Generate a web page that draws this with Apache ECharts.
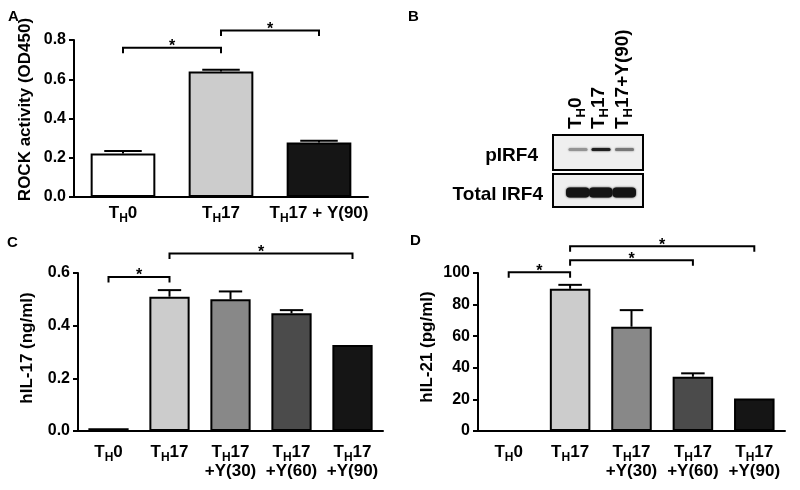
<!DOCTYPE html>
<html><head><meta charset="utf-8">
<script src="https://cdn.jsdelivr.net/npm/echarts@6/dist/echarts.min.js"></script>
<style>html,body{margin:0;padding:0;background:#fff}#c{width:800px;height:490px}</style>
</head><body><div id="c"></div>
<script>
// ---------- data ----------
const catsA = ['TH0', 'TH17', 'TH17 + Y(90)'];
const rockMean = [0.222, 0.640, 0.278];
const rockErr = [0.013, 0.009, 0.009];
const yTicksA = [0, 0.2, 0.4, 0.6, 0.8];

const catsCD = ['TH0', 'TH17', 'TH17\n+Y(30)', 'TH17\n+Y(60)', 'TH17\n+Y(90)'];
const il17Mean = [0.010, 0.510, 0.500, 0.447, 0.327];
const il17Err = [0, 0.025, 0.030, 0.012, 0];
const yTicksC = [0, 0.2, 0.4, 0.6];
const il21Mean = [0, 90.0, 66.0, 34.3, 20.5];
const il21Err = [0, 2.5, 10.5, 2.2, 0];
const yTicksD = [0, 20, 40, 60, 80, 100];

// significance brackets: [from category, to category, height in axis units]
const sigA = [[0, 1, 0.761], [1, 2, 0.849]];
const sigC = [[0, 1, 0.585], [1, 4, 0.674]];
const sigD = [[0, 1, 100.4], [1, 3, 108.0], [1, 4, 116.9]];

// western blot (panel B)
const blotLanes = ['TH0', 'TH17', 'TH17+Y(90)'];
const blotRows = ['pIRF4', 'Total IRF4'];
const pIRF4Band = [0.42, 0.95, 0.55];
const totalIRF4Band = [1.0, 1.0, 1.0];

// ---------- rendering ----------
const FF = '"Liberation Sans", Arial, sans-serif';
const rich = {
  n: {fontFamily: FF, fontWeight: 'bold', fontSize: 17, color: '#000', lineHeight: 19},
  s: {fontFamily: FF, fontWeight: 'bold', fontSize: 12, color: '#000', lineHeight: 10,
      verticalAlign: 'top', padding: [9, 0, 0, 0]}
};
function fmtLabel(s) {
  return s.split('\n').map(l => l.startsWith('TH')
    ? '{n|T}{s|H}{n|' + l.slice(2) + '}' : '{n|' + l + '}').join('\n');
}
const colA = ['#ffffff', '#cccccc', '#151515'];
const colCD = ['#151515', '#cccccc', '#888888', '#4b4b4b', '#151515'];

const grids = [
  {left: 74, top: 40, width: 294, height: 157},
  {left: 78, top: 273, width: 305, height: 158},
  {left: 478, top: 273, width: 307, height: 158}
];
function xAx(gi, cats, margin) {
  return {type: 'category', gridIndex: gi, data: cats,
    axisLine: {lineStyle: {color: '#000', width: 2}},
    axisTick: {alignWithLabel: true, length: 5, lineStyle: {color: '#000', width: 2}},
    axisLabel: {margin: margin, interval: 0, formatter: fmtLabel, rich: rich}};
}
function yAx(gi, ticks, name, gap, dec, shift) {
  return {type: 'value', gridIndex: gi, min: ticks[0], max: ticks[ticks.length - 1],
    interval: ticks[1] - ticks[0], name: name, nameLocation: 'middle', nameGap: gap,
    nameTextStyle: {fontFamily: FF, fontWeight: 'bold', fontSize: 17, color: '#000', padding: [0, 0, 0, shift]},
    axisLine: {show: true, lineStyle: {color: '#000', width: 2}},
    axisTick: {show: true, length: 5, lineStyle: {color: '#000', width: 2}},
    splitLine: {show: false},
    axisLabel: {fontFamily: FF, fontWeight: 'bold', fontSize: 16, color: '#000', margin: 8,
      formatter: v => v.toFixed(dec)}};
}
function barS(gi, means, cols) {
  return {type: 'bar', xAxisIndex: gi, yAxisIndex: gi, barWidth: '66%', silent: true, z: 3,
    data: means.map((v, i) => ({value: v, itemStyle: {color: cols[i], borderColor: '#000', borderWidth: 2}}))};
}
function errS(gi, means, errs) {
  return {type: 'custom', xAxisIndex: gi, yAxisIndex: gi, silent: true, z: 2,
    data: means.map((m, i) => [i, m, m + errs[i]]),
    renderItem(params, api) {
      const i = api.value(0);
      const lo = api.coord([i, api.value(1)]);
      const hi = api.coord([i, api.value(2)]);
      if (lo[1] - hi[1] < 0.5) return;
      const hw = api.size([1, 0])[0] * 0.66 * 0.29;
      return {type: 'group', children: [
        {type: 'line', shape: {x1: lo[0], y1: lo[1], x2: hi[0], y2: hi[1]}, style: {stroke: '#000', lineWidth: 2}},
        {type: 'line', shape: {x1: lo[0] - hw, y1: hi[1], x2: lo[0] + hw, y2: hi[1]}, style: {stroke: '#000', lineWidth: 2}}
      ]};
    }};
}

const chart = echarts.init(document.getElementById('c'), null, {renderer: 'canvas'});
chart.setOption({
  animation: false,
  backgroundColor: '#fff',
  grid: grids,
  xAxis: [xAx(0, catsA, 7), xAx(1, catsCD, 12), xAx(2, catsCD, 12)],
  yAxis: [yAx(0, yTicksA, 'ROCK activity (OD450)', 40, 1, 18),
          yAx(1, yTicksC, 'hIL-17 (ng/ml)', 42, 1, 8),
          yAx(2, yTicksD, 'hIL-21 (pg/ml)', 42, 0, 10)],
  series: [errS(0, rockMean, rockErr), barS(0, rockMean, colA),
           errS(1, il17Mean, il17Err), barS(1, il17Mean, colCD),
           errS(2, il21Mean, il21Err), barS(2, il21Mean, colCD)]
});

// annotations
const gfx = [];
function addSig(gi, sig) {
  sig.forEach(([a, b, y]) => {
    const p1 = chart.convertToPixel({gridIndex: gi}, [a, y]);
    const p2 = chart.convertToPixel({gridIndex: gi}, [b, y]);
    gfx.push({type: 'polyline', silent: true, z: 10,
      shape: {points: [[p1[0], p1[1] + 5.5], [p1[0], p1[1]], [p2[0], p2[1]], [p2[0], p2[1] + 5.5]]},
      style: {stroke: '#000', lineWidth: 2, fill: null}});
    gfx.push({type: 'text', silent: true, z: 10, x: (p1[0] + p2[0]) / 2, y: p1[1] - 1,
      style: {text: '*', font: 'bold 16px ' + FF, fill: '#000', align: 'center', verticalAlign: 'middle'}});
  });
}
addSig(0, sigA); addSig(1, sigC); addSig(2, sigD);

[['A', 8, 17], ['B', 408, 17], ['C', 7, 243], ['D', 410, 241]].forEach(([t, x, y]) => {
  gfx.push({type: 'text', silent: true, x: x, y: y,
    style: {text: t, font: 'bold 15px ' + FF, fill: '#000', align: 'left', verticalAlign: 'middle'}});
});

// blot
const laneX = [578, 601, 624.5];
const boxes = [[553, 135, 90, 35], [553, 174, 90, 33]];
boxes.forEach(b => gfx.push({type: 'rect', silent: true, shape: {x: b[0], y: b[1], width: b[2], height: b[3]},
  style: {fill: '#efefef', stroke: '#000', lineWidth: 2}}));
function gray(v) { const c = Math.round(240 - 220 * v); return 'rgb(' + c + ',' + c + ',' + c + ')'; }
pIRF4Band.forEach((v, i) => gfx.push({type: 'rect', silent: true,
  shape: {x: laneX[i] - 9.5, y: 148, width: 19, height: 3, r: 1.5},
  style: {fill: gray(v), shadowBlur: 2, shadowColor: gray(v)}}));
totalIRF4Band.forEach((v, i) => gfx.push({type: 'rect', silent: true,
  shape: {x: laneX[i] - 12, y: 187.5, width: 23.5, height: 10, r: 4},
  style: {fill: gray(v), shadowBlur: 2, shadowColor: gray(v)}}));
const rowY = [156, 195];
const rowRight = [538, 543];
blotRows.forEach((t, i) => gfx.push({type: 'text', silent: true, x: rowRight[i], y: rowY[i],
  style: {text: t, font: 'bold 19px ' + FF, fill: '#000', align: 'right', verticalAlign: 'middle'}}));
const richB = {
  n: {fontFamily: FF, fontWeight: 'bold', fontSize: 19, fill: '#000', lineHeight: 22},
  s: {fontFamily: FF, fontWeight: 'bold', fontSize: 13, fill: '#000', lineHeight: 12,
      verticalAlign: 'top', padding: [10, 0, 0, 0]}
};
blotLanes.forEach((t, i) => gfx.push({type: 'text', silent: true, x: laneX[i] - 2, y: 129, rotation: Math.PI / 2,
  style: {text: '{n|T}{s|H}{n|' + t.slice(2) + '}', rich: richB, align: 'left', verticalAlign: 'middle'}}));

chart.setOption({graphic: {elements: gfx}});
</script></body></html>
